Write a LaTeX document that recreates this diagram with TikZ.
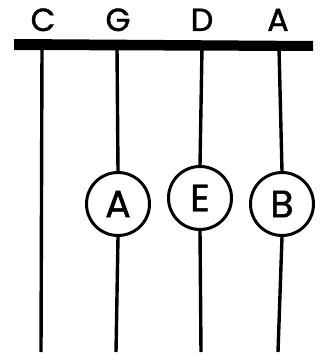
\documentclass[tikz,border=0pt]{standalone}
\usepackage{fontspec}
\setmainfont{Poppins}[BoldFont=Poppins,BoldFeatures={FakeBold=1.2}]
\begin{document}
\begin{tikzpicture}[x=1pt,y=-1pt,
  stringline/.style={line width=3.4pt},
  note/.style={circle,draw,line width=3pt,minimum size=63pt,inner sep=0pt,
    font=\fontsize{38}{38}\selectfont\bfseries},
  lbl/.style={inner sep=0pt,anchor=base,font=\fontsize{32}{32}\selectfont\bfseries}]
\useasboundingbox (0,0) rectangle (322,355);
% nut
\fill (14,39) -- (313,41) -- (313,51) -- (14,50) -- cycle;
% labels
\node[lbl] (lc) at (43,31) {C};
\node[lbl] (lg) at (118,31) {G};
\node[lbl] (ld) at (202,31) {D};
\node[lbl] (la) at (278,31) {A};
% coordinates on nut and string ends
\coordinate (tc) at (42,48);
\coordinate (tg) at (117,48);
\coordinate (td) at (202,48);
\coordinate (ta) at (279,48);
\coordinate (bc) at (41,352);
\coordinate (bg) at (116,352);
\coordinate (bd) at (201,352);
\coordinate (ba) at (278,352);
% notes
\node[note] (na) at (118,204) {\raisebox{-1pt}{A}};
\node[note] (ne) at (200,198) {\raisebox{-1pt}{E}};
\node[note] (nb) at (282,204) {\raisebox{-1pt}{B}};
% strings
\draw[stringline] (tc) -- (bc);
\draw[stringline] (tg) -- (na.north);
\draw[stringline] (na.south) -- (bg);
\draw[stringline] (td) -- (ne.north);
\draw[stringline] (ne.south) -- (bd);
\draw[stringline] (ta) -- (nb.north);
\draw[stringline] (nb.south) -- (ba);
\end{tikzpicture}
\end{document}
